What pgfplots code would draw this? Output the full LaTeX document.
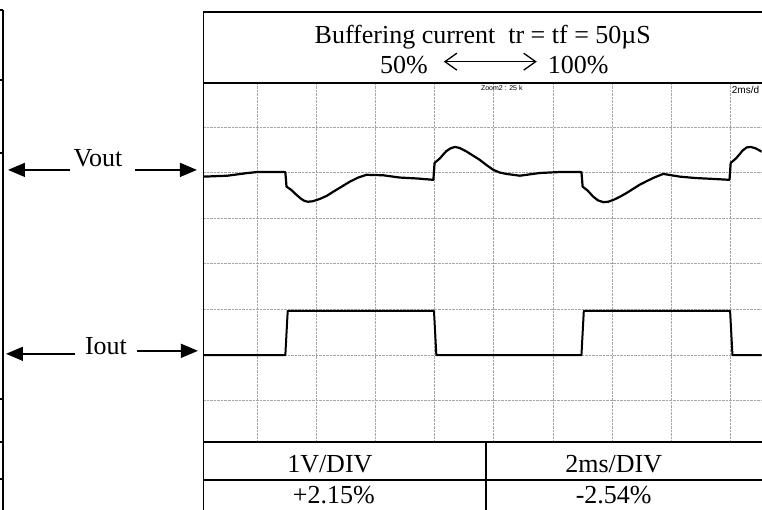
\documentclass[border=0pt]{standalone}
\usepackage{pgfplots}
\pgfplotsset{compat=1.18}
\usetikzlibrary{arrows.meta}
\usepackage{fontspec}
\setmainfont{Liberation Serif}
\newfontfamily\scopefont{Liberation Sans}

\begin{document}
\begin{tikzpicture}

\begin{axis}[
  at={(204pt,67pt)}, anchor=south west,
  scale only axis, width=558pt, height=359pt,
  xmin=0.105, xmax=9.523, ymin=0.08, ymax=7.94,
  axis line style={draw=none},
  xtick={1,...,9}, ytick={1,...,7},
  xticklabels={}, yticklabels={},
  major tick length=0pt,
  grid=major,
  grid style={densely dotted, black!35, line width=0.7pt},
]
% Vout (AC coupled output, 1 div = 1 V)
\addplot[black, line width=2.2pt, line join=round] coordinates {
(0.10,5.91) (0.50,5.93) (0.85,5.99) (1.00,6.01) (1.48,6.01)
(1.50,5.69) (1.58,5.62) (1.66,5.52) (1.74,5.43) (1.80,5.38)
(1.86,5.36) (1.94,5.37) (2.06,5.42) (2.18,5.49) (2.29,5.58)
(2.43,5.69) (2.57,5.80) (2.71,5.89) (2.85,5.95) (3.13,5.94)
(3.41,5.89) (3.70,5.87) (3.98,5.84)
(4.00,6.21) (4.09,6.31) (4.15,6.40) (4.20,6.47) (4.27,6.53)
(4.34,6.56) (4.42,6.54) (4.54,6.46) (4.65,6.37) (4.76,6.28)
(4.88,6.16) (4.99,6.06) (5.10,6.00) (5.21,5.97) (5.44,5.93)
(5.78,5.99) (6.10,6.01) (6.48,6.01)
(6.50,5.69) (6.58,5.61) (6.68,5.47) (6.76,5.39) (6.85,5.35)
(6.93,5.36) (7.02,5.40) (7.13,5.47) (7.24,5.55) (7.35,5.64)
(7.46,5.73) (7.58,5.81) (7.69,5.88) (7.86,5.97) (8.14,5.91)
(8.40,5.88) (8.70,5.86) (8.98,5.84)
(9.00,6.21) (9.09,6.31) (9.15,6.40) (9.20,6.48) (9.27,6.55)
(9.34,6.56) (9.42,6.53) (9.55,6.44)
};
% Iout
\addplot[black, line width=2pt, line join=round] coordinates {
(0.10,2.00) (1.48,2.00) (1.52,2.97) (3.99,2.97) (4.03,2.00)
(6.48,2.00) (6.52,2.97) (8.99,2.97) (9.03,2.00) (9.60,2.00)
};
\end{axis}

\begin{scope}[x=1pt,y=1pt]
\path[use as bounding box] (0,0) rectangle (762,510);

% frames
\begin{scope}[line width=1.6pt]
\draw (203.5,498) -- (762,498);
\draw (203.5,427) -- (762,427);
\draw (203.5,498) -- (203.5,0);
\draw (203.5,68) -- (762,68);
\draw (203.5,30) -- (762,30);
\draw (486,68) -- (486,0);
\draw (3,500) -- (3,0);
\foreach \yy in {500,430,357,111,68,31} \draw (0,\yy) -- (3,\yy);
\end{scope}

% title
\fontsize{26}{30}\selectfont
\node[anchor=base, inner sep=0pt] at (483,466.7) {Buffering current\ \ tr = tf = 50µS};
\node[anchor=base west, inner sep=0pt] at (380,436.7) {50\%};
\node[anchor=base west, inner sep=0pt] at (548,436.7) {100\%};
\draw[line width=1.3pt, {Straight Barb[length=12pt,width=17pt]}-{Straight Barb[length=12pt,width=17pt]}] (444,448.3) -- (537,448.3);

% trace labels
\node[anchor=base, inner sep=0pt] at (98,343.3) {Vout};
\draw[line width=1.6pt, -{Triangle[length=17pt,width=14pt]}] (70,340) -- (8,340);
\draw[line width=1.6pt, -{Triangle[length=17pt,width=14pt]}] (135,340) -- (197,340);
\node[anchor=base, inner sep=0pt] at (106,155.7) {Iout};
\draw[line width=1.6pt, -{Triangle[length=17pt,width=14pt]}] (75,156) -- (6,156);
\draw[line width=1.6pt, -{Triangle[length=17pt,width=14pt]}] (137,159) -- (198,159);

% table
\node[anchor=base, inner sep=0pt] at (330,37) {1V/DIV};
\node[anchor=base, inner sep=0pt] at (614,37) {2ms/DIV};
\node[anchor=base, inner sep=0pt] at (334,6) {+2.15\%};
\node[anchor=base, inner sep=0pt] at (614,6) {-2.54\%};

% scope screen annotations
\node[anchor=north, inner sep=0pt, font=\scopefont\fontsize{7}{7}\selectfont] at (502,425) {Zoom2 : 25 k};
\node[anchor=north west, inner sep=0pt, font=\scopefont\fontsize{10}{10}\selectfont] at (732,424) {2ms/d};
\end{scope}
\end{tikzpicture}
\end{document}
